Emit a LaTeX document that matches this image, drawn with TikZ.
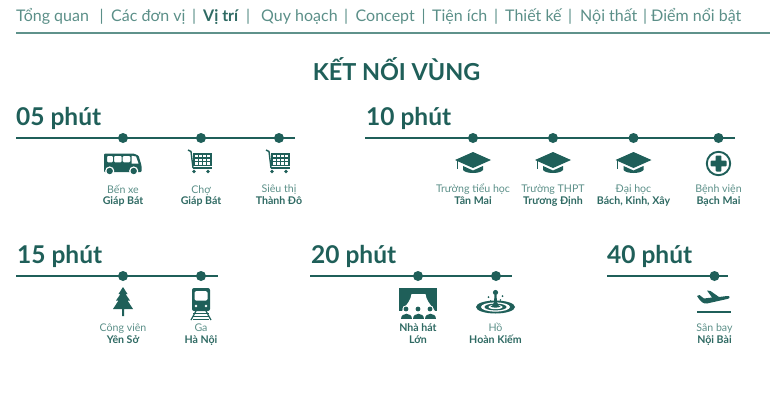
\documentclass[tikz,border=0pt]{standalone}
\usepackage{fontspec}
\setmainfont{Lato}
\definecolor{deep}{HTML}{1F5F59}
\definecolor{soft}{HTML}{5B8F88}
\definecolor{boldc}{HTML}{2F6A63}
\definecolor{rule}{HTML}{5F928B}
\newcommand{\fs}[1]{\fontsize{#1}{#1}\selectfont}
\tikzset{
  x=1pt,y=-1pt,
  navitem/.style={anchor=base west,inner sep=0,text=soft,font=\fs{16}},
  navbold/.style={anchor=base west,inner sep=0,text=boldc,font=\fs{16}\bfseries},
  headtext/.style={anchor=base west,inner sep=0,text=deep,font=\fs{24.5}\bfseries},
  stoplabel/.style={align=center,inner sep=0,anchor=base,text=soft,font=\fs{10.6}},
  stopbold/.style={align=center,inner sep=0,anchor=base,text=boldc,font=\fs{10.6}\bfseries},
  stopdot/.style={circle,fill=deep,inner sep=0,minimum size=10pt},
  timeline/.style={draw=deep,line width=2pt},
  bus/.pic={
    \fill[deep,even odd rule,rounded corners=1pt] (-18.5,-10) -- (11,-10) -- (16,-8) -- (19,2) -- (19,8.5) -- (-18.5,8.5) -- cycle
      (-15.5,-7.7) rectangle (-9.5,-1.2) (-8.5,-7.7) rectangle (-0.8,-1.2) (0.2,-7.7) rectangle (7.8,-1.2);
    \fill[white] (9,-7.7) -- (13.5,-7) -- (16,0) -- (9,0) -- cycle;
    \fill[white] (-12.8,7.5) circle (4.6) (11.2,7.5) circle (4.6);
    \fill[deep] (-12.8,7.5) circle (3.2) (11.2,7.5) circle (3.2);
  },
  cart/.pic={
    \draw[deep,line width=1.4pt] (-12.5,-12) -- (-9.5,-10.5) -- (-7.5,6);
    \draw[deep,line width=1.4pt] (-7.5,6) -- (11.5,6);
    \fill[deep] (-8,-9) rectangle (11.5,4);
    \foreach \xx in {-5.5,-1.5,2.5,6.5}\foreach \yy in {-7.2,-3.5,0}
      \fill[white] (\xx,\yy) rectangle +(3,2.6);
    \fill[deep] (-6.5,9.5) circle (1.9) (7.5,9.5) circle (1.9);
  },
  gradcap/.pic={
    \fill[deep] (0,-11) -- (18,-3) -- (0,5) -- (-18,-3) -- cycle;
    \fill[deep] (-10,3) -- (0,7.5) -- (10,3) -- (10,7) .. controls (7,11) and (-7,11) .. (-10,7) -- cycle;
    \draw[deep,line width=1pt] (-16,-2) -- (-16,6);
  },
  medplus/.pic={
    \draw[deep,line width=1.9pt,fill=white] (0,0) circle (11.7);
    \fill[deep,rounded corners=.8pt] (-2.8,-8) rectangle (2.8,8) (-8,-2.8) rectangle (8,2.8);
  },
  pine/.pic={
    \fill[deep] (0,-15) -- (4.5,-8) -- (2.5,-8) -- (7,-1.5) -- (4.5,-1.5) -- (10,7) -- (1,7) -- (1,14) -- (-1,14) -- (-1,7) -- (-10,7) -- (-4.5,-1.5) -- (-7,-1.5) -- (-2.5,-8) -- (-4.5,-8) -- cycle;
  },
  railcar/.pic={
    \fill[deep,rounded corners=2pt] (-9,-16) rectangle (9,7);
    \fill[white,rounded corners=1.5pt] (-6.5,-13) rectangle (6.5,-3.5);
    \fill[white] (-5,2) circle (1.4) (5,2) circle (1.4);
    \draw[deep,line width=1.2pt] (-5,7) -- (-10,16) (5,7) -- (10,16);
    \foreach \yy in {9,12,15} \draw[deep,line width=1pt] (-8,\yy) -- (8,\yy);
  },
  stage/.pic={
    \fill[deep] (-19,-15) rectangle (19,8);
    \fill[white] (-6.5,-9) -- (7.5,-9) .. controls (8,-3) and (12,1) .. (17,8) -- (-16,8) .. controls (-11,1) and (-7,-3) .. (-6.5,-9) -- cycle;
    \foreach \xx in {-12,0,12}{
      \fill[white] (\xx,6) circle (3.6);
      \fill[deep] (\xx,6) circle (2.4);
      \fill[deep] (\xx-5.5,15.5) .. controls (\xx-5.5,9) and (\xx+5.5,9) .. (\xx+5.5,15.5) -- cycle;
    }
  },
  ripple/.pic={
    \fill[deep] (0,10) ellipse (19.5 and 6.5);
    \fill[white] (0,10) ellipse (14.5 and 4.6);
    \fill[deep] (0,10) ellipse (11 and 3.4);
    \fill[white] (0,10) ellipse (7 and 2.2);
    \fill[deep] (-5,9.5) .. controls (-1,9) and (-1.5,3) .. (-1,-2) -- (1,-2) .. controls (1.5,3) and (1,9) .. (5,9.5) .. controls (3,11) and (-3,11) .. (-5,9.5) -- cycle;
    \fill[deep] (0,-4.5) circle (2.6);
    \fill[deep] (-7,0) circle (1) (7,-1) circle (1) (5,3) circle (.8) (-5,4) circle (.8);
  },
  plane/.pic={
    \fill[deep] (-17,-6) -- (-14.5,-7) -- (-10,-3.5) -- (-2,-4.5) -- (-7,-11.5) -- (-3.5,-11) -- (5,-5) -- (13,-6) .. controls (16,-6.5) and (16.5,-4) .. (14,-3.2) -- (-7,1.5) .. controls (-11,2) and (-13,0) .. (-17,-6) -- cycle;
    \draw[deep,line width=1.7pt] (-17,10) -- (17,10);
  },
}
\begin{document}
\begin{tikzpicture}
\useasboundingbox (0,0) rectangle (780,410);
% navigation
\node[navitem] (n1) at (16,21) {Tổng quan};
\node[navitem] (s1) at (99.5,21) {|};
\node[navitem] (n2) at (111,21) {Các đơn vị};
\node[navitem] (s2) at (192,21) {|};
\node[navbold] (n3) at (203,21) {Vị trí};
\node[navitem] (s3) at (246,21) {|};
\node[navitem] (n4) at (261,21) {Quy hoạch};
\node[navitem] (s4) at (344,21) {|};
\node[navitem] (n5) at (355.5,21) {Concept};
\node[navitem] (s5) at (421.5,21) {|};
\node[navitem] (n6) at (432,21) {Tiện ích};
\node[navitem] (s6) at (494,21) {|};
\node[navitem] (n7) at (505,21) {Thiết kế};
\node[navitem] (s7) at (568,21) {|};
\node[navitem] (n8) at (580,21) {Nội thất};
\node[navitem] (s8) at (643,21) {|};
\node[navitem] (n9) at (651,21) {Điểm nổi bật};
\coordinate (ruleL) at (16,33);
\coordinate (ruleR) at (770,33);
\draw[rule,line width=1.4pt] (ruleL) -- (ruleR);
% title
\node[anchor=base,inner sep=0,text=deep,font=\fs{23.4}\bfseries] (title) at (396.5,80.5) {KẾT NỐI VÙNG};
% 05 phút
\node[headtext] (h05) at (16,125) {05 phút};
\coordinate (a0) at (16,137.5); \coordinate (a1) at (295,137.5);
\draw[timeline] (a0) -- (a1);
\node[stopdot] (a2) at (123,138) {}; \node[stopdot] (a3) at (201,138) {}; \node[stopdot] (a4) at (279,138) {};
\pic at (122.5,163.5) {bus};
\pic at (200.5,162) {cart};
\pic at (278.5,162) {cart};
\node[stoplabel] (a5) at (123,193) {Bến xe};
\node[stopbold] (a6) at (123,204.5) {Giáp Bát};
\node[stoplabel] (a7) at (201,193) {Chợ};
\node[stopbold] (a8) at (201,204.5) {Giáp Bát};
\node[stoplabel] (a9) at (279,192) {Siêu thị};
\node[stopbold] (a10) at (279,204.5) {Thành Đô};
% 10 phút
\node[headtext] (h10) at (366,125) {10 phút};
\coordinate (b0) at (365,137.5); \coordinate (b1) at (735,137.5);
\draw[timeline] (b0) -- (b1);
\node[stopdot] (b2) at (473,138) {}; \node[stopdot] (b3) at (553,138) {}; \node[stopdot] (b4) at (633.5,138) {}; \node[stopdot] (b5) at (718.5,138) {};
\pic at (473,163) {gradcap};
\pic at (553,163) {gradcap};
\pic at (633.5,163) {gradcap};
\pic at (718.5,163.5) {medplus};
\node[stoplabel] (b6) at (473,192) {Trường tiểu học};
\node[stopbold] (b7) at (473,204.5) {Tân Mai};
\node[stoplabel] (b8) at (553,192) {Trường THPT};
\node[stopbold] (b9) at (553,204.5) {Trương Định};
\node[stoplabel] (b10) at (633.5,192) {Đại học};
\node[stopbold] (b11) at (633.5,204.5) {Bách, Kinh, Xây};
\node[stoplabel] (b12) at (718.5,192) {Bệnh viện};
\node[stopbold] (b13) at (718.5,204.5) {Bạch Mai};
% 15 phút
\node[headtext] (h15) at (17,263) {15 phút};
\coordinate (c0) at (16,275.5); \coordinate (c1) at (218,275.5);
\draw[timeline] (c0) -- (c1);
\node[stopdot] (c2) at (123,276) {}; \node[stopdot] (c3) at (201,276) {};
\pic at (123,302) {pine};
\pic at (201,304) {railcar};
\node[stoplabel] (c4) at (123,331) {Công viên};
\node[stopbold] (c5) at (123,343) {Yên Sở};
\node[stoplabel] (c6) at (201,331) {Ga};
\node[stopbold] (c7) at (201,343) {Hà Nội};
% 20 phút
\node[headtext] (h20) at (311,263) {20 phút};
\coordinate (d0) at (310,275.5); \coordinate (d1) at (512,275.5);
\draw[timeline] (d0) -- (d1);
\node[stopdot] (d2) at (418,276) {}; \node[stopdot] (d3) at (496,276) {};
\pic at (418,303) {stage};
\pic at (495.5,297) {ripple};
\node[stopbold] (d4) at (418,331) {Nhà hát};
\node[stopbold] (d5) at (418,343) {Lớn};
\node[stoplabel] (d6) at (495.5,331) {Hồ};
\node[stopbold] (d7) at (495.5,343) {Hoàn Kiếm};
% 40 phút
\node[headtext] (h40) at (607,263) {40 phút};
\coordinate (e0) at (607,275.5); \coordinate (e1) at (728,275.5);
\draw[timeline] (e0) -- (e1);
\node[stopdot] (e2) at (714.5,276) {};
\pic at (714,302) {plane};
\node[stoplabel] (e3) at (714.5,331) {Sân bay};
\node[stopbold] (e4) at (714.5,343) {Nội Bài};
\end{tikzpicture}
\end{document}
